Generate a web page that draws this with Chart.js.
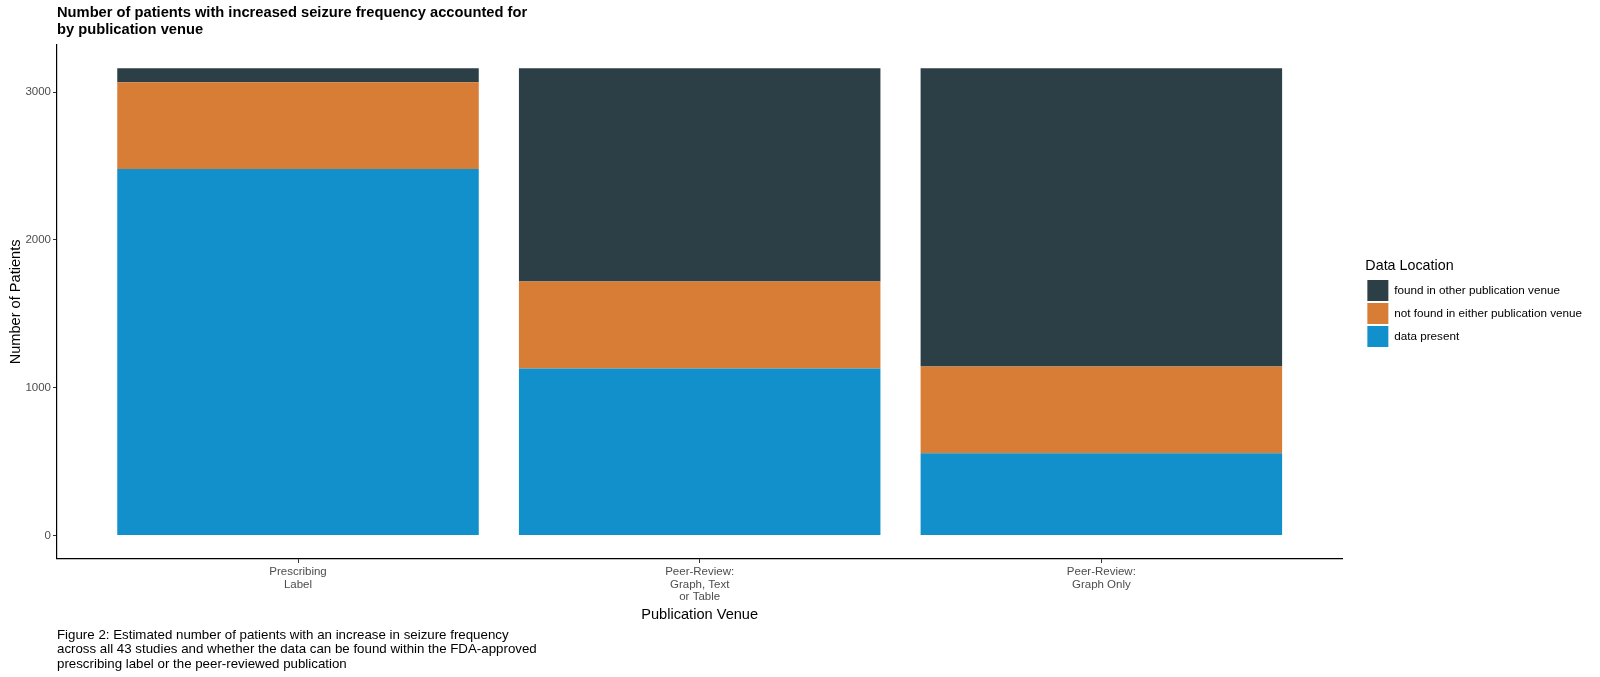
<!DOCTYPE html>
<html>
<head>
<meta charset="utf-8">
<script src="https://cdn.jsdelivr.net/npm/chart.js@4.4.1/dist/chart.umd.min.js"></script>
<style>
  html, body { margin: 0; padding: 0; background: #ffffff; }
  #wrap { position: relative; width: 1600px; height: 677px; }
</style>
</head>
<body>
<div id="wrap"><canvas id="venueChart"></canvas></div>
<script>
// Data
const venues = [
    ['Prescribing', 'Label'],
    ['Peer-Review:', 'Graph, Text', 'or Table'],
    ['Peer-Review:', 'Graph Only']
];
const venuePositions = [1, 2, 3];
const dataPresent = [2480, 1130, 557];
const notFound = [587, 588, 587];
const foundOther = [95, 1444, 2018];
const yTicks = [0, 1000, 2000, 3000];

const titleLines = [
    'Number of patients with increased seizure frequency accounted for',
    'by publication venue'
];
const captionLines = [
    'Figure 2: Estimated number of patients with an increase in seizure frequency',
    'across all 43 studies and whether the data can be found within the FDA-approved',
    'prescribing label or the peer-reviewed publication'
];

Chart.defaults.font.family = "'Liberation Sans', Arial, Helvetica, sans-serif";
Chart.defaults.color = '#000000';

const toPoints = (values) => values.map((v, i) => ({ x: venuePositions[i], y: v }));

const ctx = document.getElementById('venueChart');

new Chart(ctx, {
    type: 'bar',
    data: {
        datasets: [
            { label: 'data present', data: toPoints(dataPresent), backgroundColor: '#1290cb' },
            { label: 'not found in either publication venue', data: toPoints(notFound), backgroundColor: '#d87d35' },
            { label: 'found in other publication venue', data: toPoints(foundOther), backgroundColor: '#2c3e46' }
        ]
    },
    options: {
        responsive: true,
        maintainAspectRatio: false,
        animation: false,
        devicePixelRatio: 1,
        layout: { padding: { left: 0, right: 8, top: 0, bottom: 0 } },
        datasets: {
            bar: { categoryPercentage: 0.9, barPercentage: 1.0, borderWidth: 0 }
        },
        plugins: {
            tooltip: { enabled: false },
            title: {
                display: true,
                text: titleLines,
                align: 'start',
                fullSize: false,
                color: '#000000',
                font: { size: 14.7, weight: 'bold', lineHeight: 1.115 },
                padding: { top: 5, bottom: 7 }
            },
            subtitle: {
                display: true,
                text: captionLines,
                position: 'bottom',
                align: 'start',
                fullSize: false,
                color: '#000000',
                font: { size: 13.3, lineHeight: 1.075 },
                padding: { top: 0, bottom: 6 }
            },
            legend: {
                position: 'right',
                align: 'center',
                fullSize: false,
                reverse: true,
                title: {
                    display: true,
                    text: 'Data Location',
                    position: 'start',
                    color: '#000000',
                    font: { size: 14.3 },
                    padding: { top: 4, bottom: 2 }
                },
                labels: {
                    boxWidth: 21,
                    boxHeight: 21,
                    padding: 2,
                    color: '#000000',
                    font: { size: 11.7 }
                }
            }
        },
        scales: {
            x: {
                type: 'linear',
                stacked: true,
                min: 0.4,
                max: 3.6,
                offset: false,
                afterBuildTicks: (scale) => {
                    scale.ticks = venuePositions.map(v => ({ value: v }));
                },
                ticks: {
                    color: '#4d4d4d',
                    padding: 3,
                    autoSkip: false,
                    maxRotation: 0,
                    font: { size: 11.5, lineHeight: 1.065 },
                    callback: (value) => venues[venuePositions.indexOf(value)]
                },
                grid: { display: true, offset: false, drawOnChartArea: false, drawTicks: true, tickLength: 4, color: '#333333' },
                border: { display: true, color: '#000000', width: 1.2 },
                title: {
                    display: true,
                    text: 'Publication Venue',
                    color: '#000000',
                    font: { size: 14.6, lineHeight: 1.15 },
                    padding: { top: 1, bottom: 4.6 }
                }
            },
            y: {
                stacked: true,
                min: -158,
                max: 3320,
                afterBuildTicks: (scale) => {
                    scale.ticks = yTicks.map(v => ({ value: v }));
                },
                afterFit: (scale) => { scale.width = 57; },
                ticks: {
                    color: '#4d4d4d',
                    padding: 2,
                    font: { size: 11.5 },
                    callback: (value) => String(value)
                },
                grid: { display: true, offset: false, drawOnChartArea: false, drawTicks: true, tickLength: 4, color: '#333333' },
                border: { display: true, color: '#000000', width: 1.2 },
                title: {
                    display: true,
                    text: 'Number of Patients',
                    color: '#000000',
                    font: { size: 14.6 },
                    padding: { top: 7, bottom: 3 }
                }
            },
            // empty right axis, only keeps the gap between panel and legend
            gap: {
                type: 'linear',
                position: 'right',
                display: true,
                ticks: { display: false },
                grid: { display: false },
                border: { display: false },
                afterFit: (scale) => { scale.width = 23; }
            }
        }
    }
});
</script>
</body>
</html>
